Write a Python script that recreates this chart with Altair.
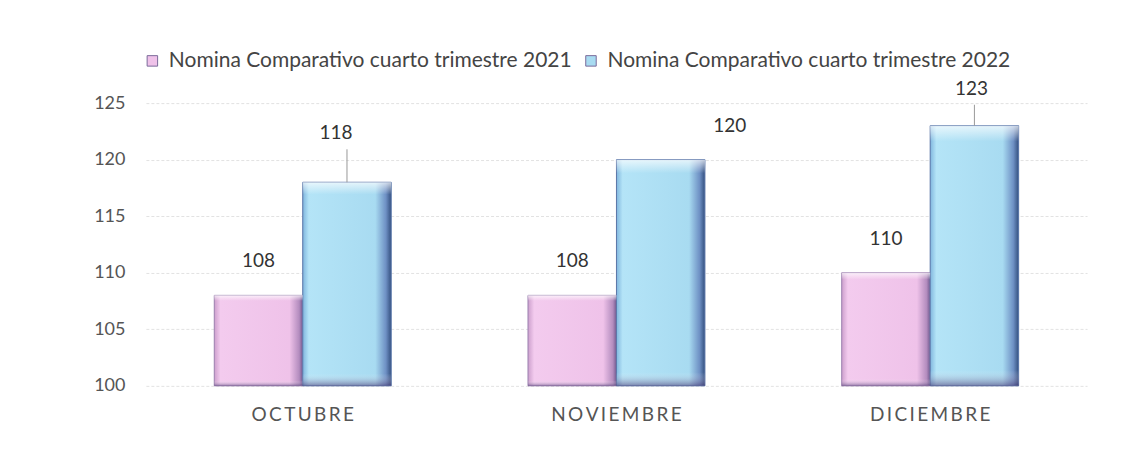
import altair as alt
import pandas as pd

meses = ["OCTUBRE", "NOVIEMBRE", "DICIEMBRE"]
series = ["Nomina Comparativo cuarto trimestre 2021", "Nomina Comparativo cuarto trimestre 2022"]
nomina_2021 = [108, 108, 110]
nomina_2022 = [118, 120, 123]
colores = ["#efc2e9", "#a8dbf1"]

rows = []
for m, v in zip(meses, nomina_2021):
    rows.append({"mes": m, "serie": series[0], "valor": v})
for m, v in zip(meses, nomina_2022):
    rows.append({"mes": m, "serie": series[1], "valor": v})
df = pd.DataFrame(rows)

FONT = "Lato"
BASE_VALUE = 100

x = alt.X("mes:N", sort=meses,
          scale=alt.Scale(paddingInner=0.436, paddingOuter=0.218),
          axis=alt.Axis(title=None, labelAngle=0, domain=False, ticks=False,
                        labelFont=FONT, labelFontSize=19, labelColor="#555",
                        labelPadding=20,
                        labelExpr="join(split(datum.label, ''), '\u2009')"))
xo = alt.XOffset("serie:N", sort=series, scale=alt.Scale(paddingInner=0, paddingOuter=0))
y = alt.Y("valor:Q",
          scale=alt.Scale(domain=[100, 125], zero=False, nice=False, clamp=True),
          axis=alt.Axis(title=None, values=[100, 105, 110, 115, 120, 125],
                        domain=False, ticks=False, labelPadding=21,
                        labelFont=FONT, labelFontSize=18, labelColor="#555",
                        grid=True, gridColor="#e2e2e2", gridDash=[3, 2]))
y2 = alt.Y2(datum=BASE_VALUE)

base = alt.Chart(df)

bars = base.mark_bar().encode(
    x=x, xOffset=xo, y=y, y2=y2,
    color=alt.Color("serie:N", sort=series,
                    scale=alt.Scale(domain=series, range=colores),
                    legend=alt.Legend(title=None, orient="none", legendX=-4, legendY=-53,
                                      direction="horizontal", symbolType="square",
                                      symbolSize=110, symbolStrokeColor="#7a6a9a",
                                      symbolStrokeWidth=1,
                                      labelFont=FONT, labelFontSize=21, labelColor="#444",
                                      labelLimit=0, columnPadding=8, labelOffset=6)),
)

grad_pink = alt.Gradient(gradient="linear", x1=0, x2=1, y1=0, y2=0, stops=[
    alt.GradientStop(color="#cc9fcc", offset=0),
    alt.GradientStop(color="#f3cbee", offset=0.07),
    alt.GradientStop(color="#efc2e9", offset=0.85),
    alt.GradientStop(color="#b38cbe", offset=0.96),
    alt.GradientStop(color="#70598e", offset=1),
])
grad_blue = alt.Gradient(gradient="linear", x1=0, x2=1, y1=0, y2=0, stops=[
    alt.GradientStop(color="#80b6de", offset=0),
    alt.GradientStop(color="#b4e4f7", offset=0.07),
    alt.GradientStop(color="#a8dbf1", offset=0.82),
    alt.GradientStop(color="#6e90c4", offset=0.94),
    alt.GradientStop(color="#34507f", offset=1),
])
shade = alt.Gradient(gradient="linear", x1=0, x2=0, y1=0, y2=1, stops=[
    alt.GradientStop(color="rgba(255,255,255,0.7)", offset=0),
    alt.GradientStop(color="rgba(255,255,255,0.0)", offset=0.06),
    alt.GradientStop(color="rgba(255,255,255,0.0)", offset=0.94),
    alt.GradientStop(color="rgba(70,50,110,0.55)", offset=1),
])

pink = base.transform_filter(alt.datum.serie == series[0]).mark_bar(
    fill=grad_pink, stroke="#9c82b0", strokeWidth=1).encode(x=x, xOffset=xo, y=y, y2=y2)
blue = base.transform_filter(alt.datum.serie == series[1]).mark_bar(
    fill=grad_blue, stroke="#5a74a8", strokeWidth=1).encode(x=x, xOffset=xo, y=y, y2=y2)
gloss = base.mark_bar(fill=shade).encode(x=x, xOffset=xo, y=y, y2=y2)

txt = dict(font=FONT, fontSize=19, color="#333", baseline="bottom")
lab_2021 = base.transform_filter(alt.datum.serie == series[0]).mark_text(dy=-24, **txt).encode(
    x=x, xOffset=xo, y=y, text=alt.Text("valor:Q", format=".0f"))


def lab22(mes, dx, dy):
    return base.transform_filter(
        (alt.datum.serie == series[1]) & (alt.datum.mes == mes)
    ).mark_text(dx=dx, dy=dy, **txt).encode(
        x=x, xOffset=xo, y=y, text=alt.Text("valor:Q", format=".0f"))


lab_oct = lab22("OCTUBRE", -11, -39)
lab_nov = lab22("NOVIEMBRE", 69, -24)
lab_dic = lab22("DICIEMBRE", -3, -27)


def leader(mes, off):
    return base.transform_filter(
        (alt.datum.serie == series[1]) & (alt.datum.mes == mes)
    ).mark_rule(color="#999", strokeWidth=1, y2Offset=off).encode(
        x=x, xOffset=xo, y=y, y2="valor:Q")


lead_oct = leader("OCTUBRE", -33)
lead_dic = leader("DICIEMBRE", -21)

chart = alt.layer(
    bars, pink, blue, gloss, lead_oct, lead_dic, lab_2021, lab_oct, lab_nov, lab_dic
).properties(
    width=942, height=283,
    autosize=alt.AutoSizeParams(type="none"),
    padding={"left": 138, "top": 95, "right": 40, "bottom": 40},
    background="white",
).configure_view(stroke=None)

chart.save("out.html", embed_options={"renderer": "svg", "actions": False})
